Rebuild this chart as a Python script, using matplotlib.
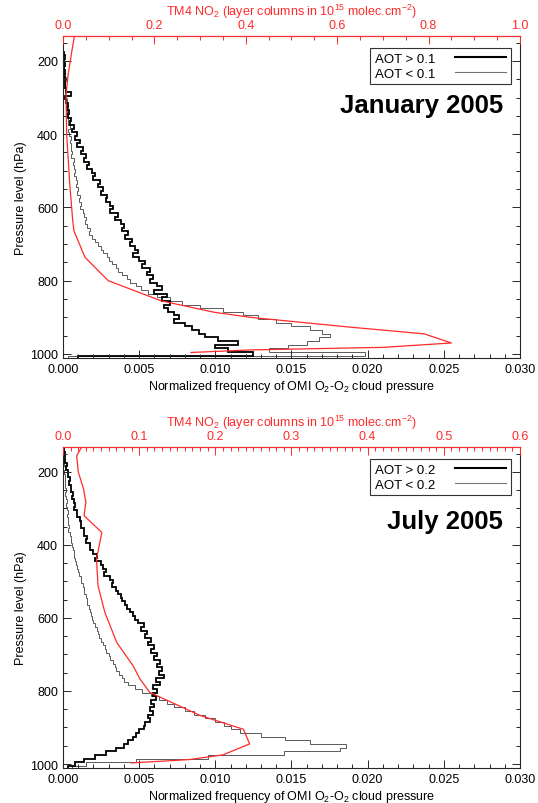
import numpy as np
import matplotlib
matplotlib.use("Agg")
import matplotlib.pyplot as plt
from matplotlib.lines import Line2D
from matplotlib.ticker import MultipleLocator

plt.rcParams["font.family"] = ["Liberation Sans", "DejaVu Sans"]
plt.rcParams["mathtext.fontset"] = "custom"
plt.rcParams["mathtext.rm"] = "Liberation Sans"

# pressure bins (hPa), bin centres
pressure = np.arange(130, 1011, 10)

# January 2005 -- normalized frequency (x 1e-3)
jan_high = [0, 0, 0, 0, 0, 0.05, 0.1, 0.05, 0.1, 0.05,
            0.1, 0.05, 0.1, 0.15, 0.1, 0.2, 0.5, 0.15, 0.2, 0.3,
            0.25, 0.4, 0.35, 0.5, 0.45, 0.7, 0.6, 0.9, 0.8, 1.1,
            0.9, 1.3, 1.2, 1.5, 1.4, 1.7, 1.6, 1.9, 2.1, 2.0,
            2.4, 2.3, 2.6, 2.5, 2.9, 2.8, 3.1, 3.3, 3.1, 3.6,
            3.4, 3.8, 4.0, 3.9, 4.3, 4.1, 4.5, 4.4, 4.7, 4.9,
            4.6, 5.0, 5.4, 5.2, 5.7, 5.5, 5.9, 5.7, 6.2, 6.5,
            6.0, 6.8, 6.5, 7.0, 6.6, 6.9, 7.3, 7.6, 7.3, 8.0,
            8.5, 8.9, 9.3, 10.2, 11.5, 10.0, 10.8, 12.5, 1.0]
jan_low = [0, 0, 0, 0, 0, 0, 0, 0.05, 0.1, 0.05,
           0.15, 0.1, 0.2, 0.1, 0.15, 0.2, 0.15, 0.2, 0.25, 0.2,
           0.3, 0.25, 0.3, 0.35, 0.3, 0.45, 0.35, 0.4, 0.5, 0.45,
           0.55, 0.5, 0.6, 0.55, 0.7, 0.65, 0.75, 0.8, 0.75, 0.85,
           0.9, 0.85, 1.0, 0.95, 1.1, 1.05, 1.2, 1.1, 1.3, 1.35,
           1.5, 1.45, 1.6, 1.75, 1.7, 1.9, 2.1, 2.3, 2.5, 2.6,
           2.9, 3.0, 3.2, 3.5, 3.6, 3.9, 4.2, 4.4, 4.8, 5.1,
           5.6, 6.2, 7.0, 7.8, 9.0, 10.5, 11.8, 12.8, 14.0, 15.0,
           16.2, 17.0, 17.5, 16.8, 16.0, 14.8, 13.5, 19.8, 0.3]

# July 2005
jul_high = [0, 0.05, 0.1, 0.15, 0.1, 0.25, 0.2, 0.35, 0.3, 0.45,
            0.4, 0.55, 0.5, 0.65, 0.6, 0.75, 0.8, 0.75, 0.95, 0.9,
            1.1, 1.2, 1.15, 1.4, 1.35, 1.6, 1.5, 1.8, 1.75, 2.0,
            2.2, 2.1, 2.5, 2.6, 2.8, 2.7, 3.1, 3.3, 3.2, 3.5,
            3.6, 3.8, 3.9, 4.1, 4.2, 4.4, 4.6, 4.7, 4.9, 5.3,
            5.1, 5.5, 5.4, 5.8, 5.6, 6.0, 5.8, 6.2, 6.0, 6.4,
            6.2, 6.5, 6.3, 6.6, 6.1, 6.4, 5.9, 6.2, 5.9, 6.1,
            5.8, 6.0, 5.7, 5.9, 5.6, 5.7, 5.4, 5.3, 5.0, 4.8,
            4.6, 4.3, 4.0, 3.5, 2.8, 2.1, 1.4, 0.8, 0.3]
jul_low = [0, 0, 0.05, 0, 0.05, 0.05, 0.1, 0.05, 0.1, 0.1,
           0.15, 0.1, 0.2, 0.15, 0.2, 0.25, 0.2, 0.25, 0.3, 0.25,
           0.3, 0.35, 0.4, 0.35, 0.45, 0.5, 0.55, 0.6, 0.65, 0.7,
           0.75, 0.8, 0.85, 0.9, 1.0, 1.05, 1.15, 1.2, 1.3, 1.35,
           1.4, 1.5, 1.55, 1.6, 1.7, 1.75, 1.85, 1.9, 2.0, 2.1,
           2.2, 2.3, 2.35, 2.5, 2.6, 2.75, 2.85, 3.0, 3.1, 3.25,
           3.4, 3.5, 3.7, 3.85, 4.0, 4.3, 4.7, 5.2, 5.8, 6.3,
           6.8, 7.3, 8.0, 8.6, 9.3, 10.0, 10.6, 11.0, 11.6, 13.0,
           14.6, 16.2, 18.6, 18.2, 14.5, 9.5, 4.8, 1.5, 0.6]

# TM4 NO2 profiles (layer columns, 1e15 molec/cm2)
jan_tm4_p = [132, 176, 240, 295, 400, 540, 632, 664, 736, 800,
             855, 886, 900, 927, 945, 970, 982, 989, 996]
jan_tm4 = [0.025, 0.019, 0.011, 0.0066, 0.008, 0.015, 0.021, 0.024, 0.048, 0.099,
           0.215, 0.33, 0.41, 0.63, 0.79, 0.85, 0.70, 0.41, 0.28]
jul_tm4_p = [132, 156, 200, 247, 283, 320, 366, 439, 512, 585,
             667, 731, 767, 804, 867, 905, 945, 975, 988, 997]
jul_tm4 = [0.0245, 0.018, 0.020, 0.027, 0.030, 0.0276, 0.051, 0.044, 0.046, 0.055,
           0.0705, 0.092, 0.101, 0.114, 0.18, 0.237, 0.245, 0.21, 0.165, 0.09]

panels = [
    dict(high=jan_high, low=jan_low, tm4_p=jan_tm4_p, tm4=jan_tm4, top_max=1.0,
         top_major=0.2, top_minor=0.05, labels=["AOT > 0.1", "AOT < 0.1"],
         title="January 2005", rect=[0.1171, 0.5535, 0.8494, 0.4005], title_y=0.786),
    dict(high=jul_high, low=jul_low, tm4_p=jul_tm4_p, tm4=jul_tm4, top_max=0.6,
         top_major=0.1, top_minor=0.01, labels=["AOT > 0.2", "AOT < 0.2"],
         title="July 2005", rect=[0.1171, 0.0435, 0.8494, 0.3993], title_y=0.769),
]

RED = "#ff2a2a"
edges = np.append(pressure - 5, pressure[-1] + 5)

fig = plt.figure(figsize=(5.38, 8.04), dpi=100)

for pn in panels:
    ax = fig.add_axes(pn["rect"])
    ax.stairs(np.array(pn["low"]) * 1e-3, edges, orientation="horizontal",
              baseline=0, color="0.35", lw=0.7)
    ax.stairs(np.array(pn["high"]) * 1e-3, edges, orientation="horizontal",
              baseline=0, color="k", lw=1.3)
    ax.set_xlim(0, 0.03)
    ax.set_ylim(1011, 132)
    ax.xaxis.set_major_locator(MultipleLocator(0.005))
    ax.xaxis.set_minor_locator(MultipleLocator(0.001))
    ax.yaxis.set_major_locator(MultipleLocator(200))
    ax.yaxis.set_minor_locator(MultipleLocator(50))
    ax.xaxis.set_major_formatter(plt.FormatStrFormatter("%.3f"))
    ax.tick_params(which="both", direction="in", top=True, right=True,
                   labelsize=9, color="0.15")
    ax.tick_params(which="major", length=6, width=0.7)
    ax.tick_params(which="minor", length=3, width=0.7)
    for s in ax.spines.values():
        s.set_color("0.15")
        s.set_linewidth(0.8)
    ax.set_xlabel("Normalized frequency of OMI O$_2$-O$_2$ cloud pressure", fontsize=9, labelpad=2)
    ax.set_ylabel("Pressure level (hPa)", fontsize=9, labelpad=2)

    leg = ax.legend(handles=[Line2D([], [], color="k", lw=1.5),
                             Line2D([], [], color="0.45", lw=0.8)],
                    labels=pn["labels"], loc="upper right", bbox_to_anchor=(0.98, 0.963),
                    borderaxespad=0, fancybox=False, edgecolor="0.2", framealpha=1,
                    markerfirst=False, handlelength=3.9, fontsize=9.5,
                    labelspacing=0.2, borderpad=0.35, handletextpad=1.5)
    leg.get_frame().set_linewidth(0.8)

    ax.text(0.963, pn["title_y"], pn["title"], transform=ax.transAxes, ha="right",
            va="center", fontsize=18.5, fontweight="bold")

    tw = ax.twiny()
    tw.plot(pn["tm4"], pn["tm4_p"], color=RED, lw=0.9)
    tw.set_xlim(0, pn["top_max"])
    tw.xaxis.set_major_locator(MultipleLocator(pn["top_major"]))
    tw.xaxis.set_minor_locator(MultipleLocator(pn["top_minor"]))
    tw.xaxis.set_major_formatter(plt.FormatStrFormatter("%.1f"))
    tw.tick_params(which="both", direction="in", colors=RED, labelsize=9)
    tw.tick_params(which="major", length=6, width=0.7)
    tw.tick_params(which="minor", length=3, width=0.7)
    for side in ["bottom", "left", "right"]:
        tw.spines[side].set_visible(False)
    tw.spines["top"].set_color(RED)
    tw.spines["top"].set_linewidth(0.8)
    tw.set_xlabel("TM4 NO$_2$ (layer columns in 10$^{15}$ molec.cm$^{-2}$)",
                  color=RED, fontsize=9, labelpad=3)

fig.savefig("out.png", dpi=100)
